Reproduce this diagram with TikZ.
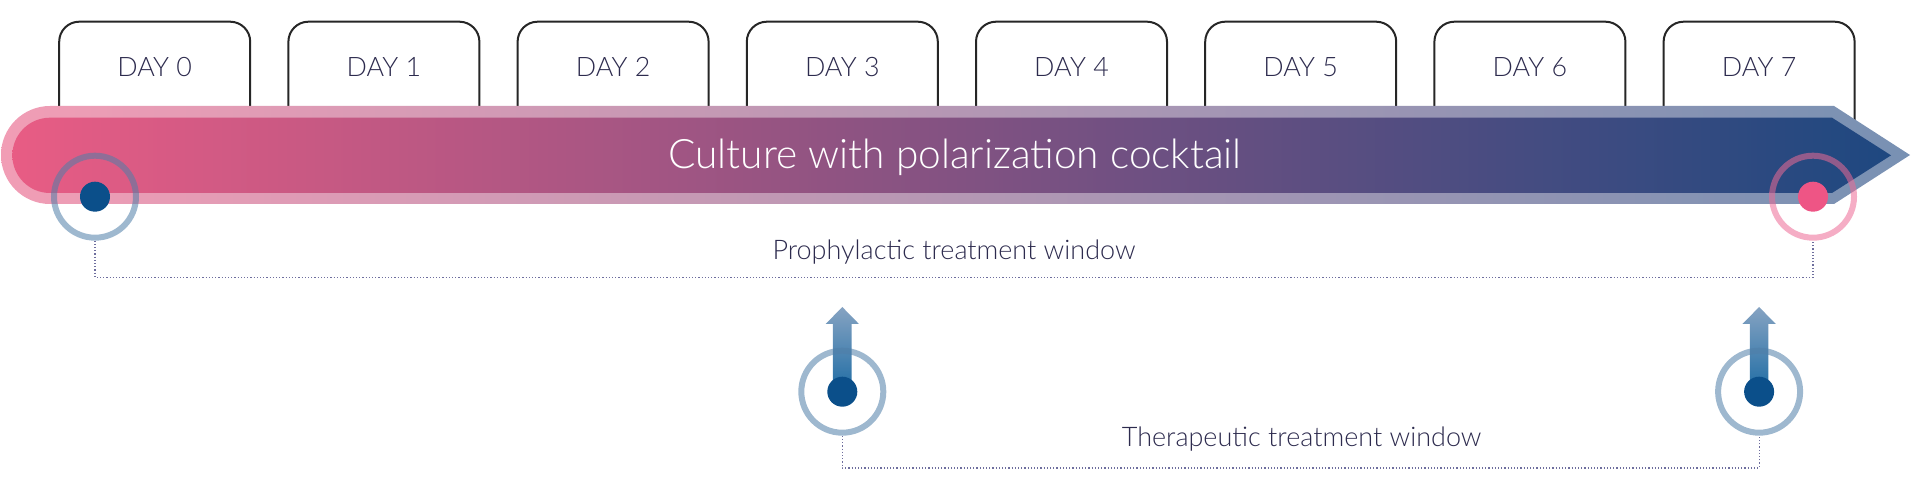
\documentclass[tikz,border=0pt]{standalone}
\usepackage{fontspec}
\setmainfont{Lato Light}
\usepackage{tikz}
\usetikzlibrary{positioning}
\definecolor{barpink}{HTML}{E85C84}
\definecolor{barblue}{HTML}{1E4880}
\definecolor{labelink}{HTML}{2D2B4E}
\definecolor{ringblue}{HTML}{4F7EA8}
\definecolor{ringpink}{HTML}{EC6A95}
\definecolor{dotblue}{HTML}{0B4F8A}
\definecolor{dotpink}{HTML}{EE5585}
\definecolor{dotline}{HTML}{6E6E9E}
\definecolor{shaftlight}{HTML}{86A3C2}
\definecolor{shaftdark}{HTML}{1E6CA4}
\tikzstyle{day} = [rectangle, rounded corners=10pt, minimum width=95.5pt, inner sep=0pt, text height=27.5pt, text depth=60.5pt, draw=black!85, line width=1pt, fill=white, text=labelink, font=\fontsize{13.4}{16}\selectfont]
\tikzstyle{markring} = [circle, minimum size=41pt, inner sep=0pt, line width=3pt, draw opacity=0.55]
\tikzstyle{markdot} = [circle, minimum size=15pt, inner sep=0pt]
\tikzstyle{window} = [line width=0.6pt, dash pattern=on 0.6pt off 1pt, draw=dotline]
\tikzstyle{windowlabel} = [anchor=base, text=labelink, font=\fontsize{13.5}{15}\selectfont]

\begin{document}
\begin{tikzpicture}[x=0.5pt, y=-0.5pt, node distance=114.6pt]
\useasboundingbox (0,0) rectangle (1920,480);

\node (day0) [day] at (154.7,109.7) {DAY 0};
\node (day1) [day, right of=day0] {DAY 1};
\node (day2) [day, right of=day1] {DAY 2};
\node (day3) [day, right of=day2] {DAY 3};
\node (day4) [day, right of=day3] {DAY 4};
\node (day5) [day, right of=day4] {DAY 5};
\node (day6) [day, right of=day5] {DAY 6};
\node (day7) [day, right of=day6] {DAY 7};

% culture bar
\shade[left color=barpink!60!white, right color=barblue!60!white] (50,106) -- (1834,106) -- (1910,155) -- (1834,204) -- (50,204) arc[start angle=90, end angle=270, radius=49] -- cycle;
\shade[left color=barpink, right color=barblue] (50,117.7) -- (1832,117.7) -- (1891,155.35) -- (1832,193) -- (50,193) arc[start angle=90, end angle=270, radius=37.65] -- cycle;
\node (culture) [anchor=base, text=white, font=\fontsize{20.3}{24}\selectfont] at (955,168.3) {Culture with polarization cocktail};

% prophylactic window
\node (ring0) [markring, draw=ringblue] at (95,196.7) {};
\node (dot0) [markdot, fill=dotblue] at (ring0) {};
\node (ring7) [markring, draw=ringpink] at (1813,196.7) {};
\node (dot7) [markdot, fill=dotpink] at (ring7) {};
\draw [window] (ring0.south) -- ++(0,36.6) -| (ring7.south);
\node (prolabel) [windowlabel] at (954,260) {Prophylactic treatment window};

% therapeutic window
\coordinate (start3) at (day3 |- 0,391.7);
\coordinate (start7) at (day7 |- 0,391.7);
\shade[top color=shaftlight, bottom color=shaftdark] (start3) ++(-9.35,0) -- ++(0,-67.7) -- ++(-7.3,0) -- ++(16.65,-17) -- ++(16.65,17) -- ++(-7.3,0) -- ++(0,67.7) -- cycle;
\shade[top color=shaftlight, bottom color=shaftdark] (start7) ++(-9.35,0) -- ++(0,-67.7) -- ++(-7.3,0) -- ++(16.65,-17) -- ++(16.65,17) -- ++(-7.3,0) -- ++(0,67.7) -- cycle;
\node (tring3) [markring, draw=ringblue] at (start3) {};
\node (tdot3) [markdot, fill=dotblue] at (start3) {};
\node (tring7) [markring, draw=ringblue] at (start7) {};
\node (tdot7) [markdot, fill=dotblue] at (start7) {};
\draw [window] (tring3.south) -- ++(0,32.3) -| (tring7.south);
\node (therlabel) [windowlabel] at (1301.6,446.7) {Therapeutic treatment window};

\end{tikzpicture}
\end{document}
